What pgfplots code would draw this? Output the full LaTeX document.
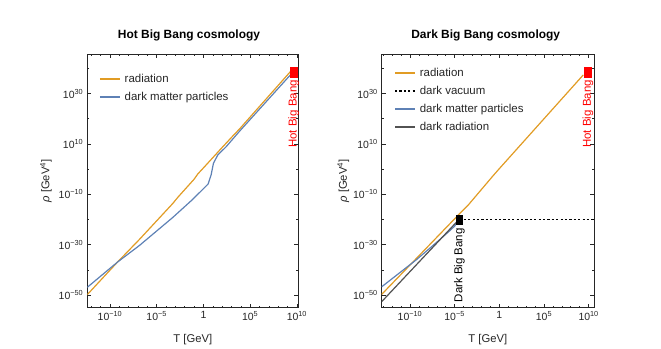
\documentclass[border=0pt]{standalone}
\usepackage{pgfplots}
\pgfplotsset{compat=1.18}
\usepackage{fontspec}
\setmainfont{Liberation Sans}
\definecolor{mblue}{rgb}{0.368,0.507,0.710}
\definecolor{morange}{rgb}{0.881,0.611,0.142}
\definecolor{dgray}{rgb}{0.32,0.32,0.32}
\definecolor{axc}{rgb}{0.15,0.15,0.15}
\pgfdeclareplotmark{bbrect}{\pgfpathrectangle{\pgfpoint{-4bp}{-5.5bp}}{\pgfpoint{8bp}{11bp}}\pgfusepathqfill}
\pgfdeclareplotmark{dbrect}{\pgfpathrectangle{\pgfpoint{-3.5bp}{-5bp}}{\pgfpoint{7bp}{10bp}}\pgfusepathqfill}
\tikzset{
  lab/.style={font=\fontsize{11.3}{13}\selectfont, text=axc},
  ttl/.style={font=\fontsize{12}{14}\selectfont\bfseries, text=black},
}
\pgfplotsset{
  myax/.style={
    scale only axis, height=253.7bp,
    ymin=1e-55, ymax=5e45,
    ytick={1e-50,1e-30,1e-10,1e10,1e30},
    yticklabels={10\textsuperscript{−50},10\textsuperscript{−30},10\textsuperscript{−10},10\textsuperscript{10},10\textsuperscript{30}},
    minor ytick={1e-40,1e-20,1,1e20,1e40},
    xtick={1e-10,1e-5,1,1e5,1e10},
    xticklabels={10\textsuperscript{−10},10\textsuperscript{−5},1,10\textsuperscript{5},10\textsuperscript{10}},
    tick align=inside, major tick length=4bp, minor tick length=2.2bp,
    every tick/.style={axc, line width=0.6bp},
    ticklabel style={font=\fontsize{10.5}{12}\selectfont, text=axc},
    yticklabel style={xshift=-0.5bp},
    axis line style={axc, line width=0.8bp},
    legend cell align=left,
    legend style={draw=none, fill=none, anchor=north west, inner sep=0pt, row sep=4bp, column sep=3bp,
      nodes={inner sep=1bp, text height=9bp, text depth=3bp, font=\fontsize{11.5}{13}\selectfont, text=axc}},
  },
  legend image code/.code={\draw[#1, line width=1.6bp] (0bp,0bp) -- (20bp,0bp);},
}
\begin{document}
\begin{tikzpicture}
\path[use as bounding box] (0,0) rectangle (661bp,349bp);
% ---------------- left panel ----------------
\begin{loglogaxis}[myax, at={(87.3bp,41.3bp)}, anchor=south west, width=211bp,
  xmin=3.72e-13, xmax=1.41e10, clip mode=individual,
  minor xtick={1e-12,1e-11,1e-9,1e-8,1e-7,1e-6,1e-4,1e-3,1e-2,1e-1,1e1,1e2,1e3,1e4,1e6,1e7,1e8,1e9},
  legend style={at={(axis description cs:0.055,0.929)}}]
\addplot[morange, line width=1.2bp] coordinates {
 (3.72e-13,1.58e-50) (6.31e-10,1.26e-37) (1.41e-7,1.26e-28) (5.01e-4,2.00e-14)
 (2.00e-3,1e-11) (0.1,1e-4) (0.251,1.26e-2) (1,3.16) (100,3.98e8) (1000,3.98e12)
 (7.08e3,7.94e15) (2.0e9,5.01e38)};
\addlegendentry{radiation}
\addplot[mblue, line width=1.2bp] coordinates {
 (3.72e-13,1.26e-47) (6.31e-10,1.26e-37) (1.41e-7,5.01e-31) (5.13e-4,6.31e-20)
 (7.08e-2,1e-12) (3.16,1.26e-6) (6.61,5.01e-3) (11.7,200) (33.9,3.98e5) (269,7.94e8)
 (7.08e3,1e15) (2.0e9,2.51e37)};
\addlegendentry{dark matter particles}
\addplot[only marks, mark=bbrect, red, forget plot] coordinates {(4.47e9,3.55e38)};
\node[rotate=90, anchor=east, inner sep=0pt, text=red, font=\fontsize{11.5}{13}\selectfont] at (axis cs:4.47e9,2.51e35) {Hot Big Bang};
\node[ttl] at (axis description cs:0.482,1.075) {Hot Big Bang cosmology};
\node[lab, rotate=90] at (axis description cs:-0.196,0.5) {\textit{ρ} [GeV\textsuperscript{4}]};
\node[lab] at (axis description cs:0.5,-0.127) {T [GeV]};
\end{loglogaxis}
% ---------------- right panel ----------------
\begin{loglogaxis}[myax, at={(381.7bp,41.3bp)}, anchor=south west, width=212.3bp,
  xmin=6.76e-14, xmax=3.98e10, clip mode=individual,
  minor xtick={1e-13,1e-12,1e-11,1e-9,1e-8,1e-7,1e-6,1e-4,1e-3,1e-2,1e-1,1e1,1e2,1e3,1e4,1e6,1e7,1e8,1e9},
  legend style={at={(axis description cs:0.058,0.9527)}}]
\addplot[morange, line width=1.2bp] coordinates {
 (6.76e-14,2.0e-50) (2.57e-5,6.31e-19) (3.39e-4,6.31e-15) (0.214,3.16e-3) (1,1.58) (2.51e9,2.51e37)};
\addlegendentry{radiation}
\addplot[black, line width=1.2bp, dash pattern=on 2.2bp off 2.2bp] coordinates {
 (3.31e-5,7.94e-21) (3.98e10,7.94e-21)};
\addlegendentry{dark vacuum}
\addplot[mblue, line width=1.2bp] coordinates {
 (6.76e-14,2.0e-47) (5.01e-10,1e-36) (1e-7,1e-29) (2.51e-6,2.51e-25) (1e-5,2.51e-23) (2.51e-5,3.98e-21)};
\addlegendentry{dark matter particles}
\addplot[dgray, line width=1.2bp] coordinates {
 (6.76e-14,2.51e-53) (2.51e-5,5.01e-21)};
\addlegendentry{dark radiation}
\addplot[only marks, mark=bbrect, red, forget plot] coordinates {(8.13e9,2.24e38)};
\addplot[only marks, mark=dbrect, black, forget plot] coordinates {(3.31e-5,7.94e-21)};
\node[rotate=90, anchor=east, inner sep=0pt, text=red, font=\fontsize{11.5}{13}\selectfont] at (axis cs:8.13e9,2.51e35) {Hot Big Bang};
\node[rotate=90, anchor=east, inner sep=0pt, text=black, font=\fontsize{11.5}{13}\selectfont] at (axis cs:3.31e-5,3.98e-24) {Dark Big Bang};
\node[ttl] at (axis description cs:0.49,1.075) {Dark Big Bang cosmology};
\node[lab, rotate=90] at (axis description cs:-0.181,0.5) {\textit{ρ} [GeV\textsuperscript{4}]};
\node[lab] at (axis description cs:0.5,-0.127) {T [GeV]};
\end{loglogaxis}
\end{tikzpicture}
\end{document}
